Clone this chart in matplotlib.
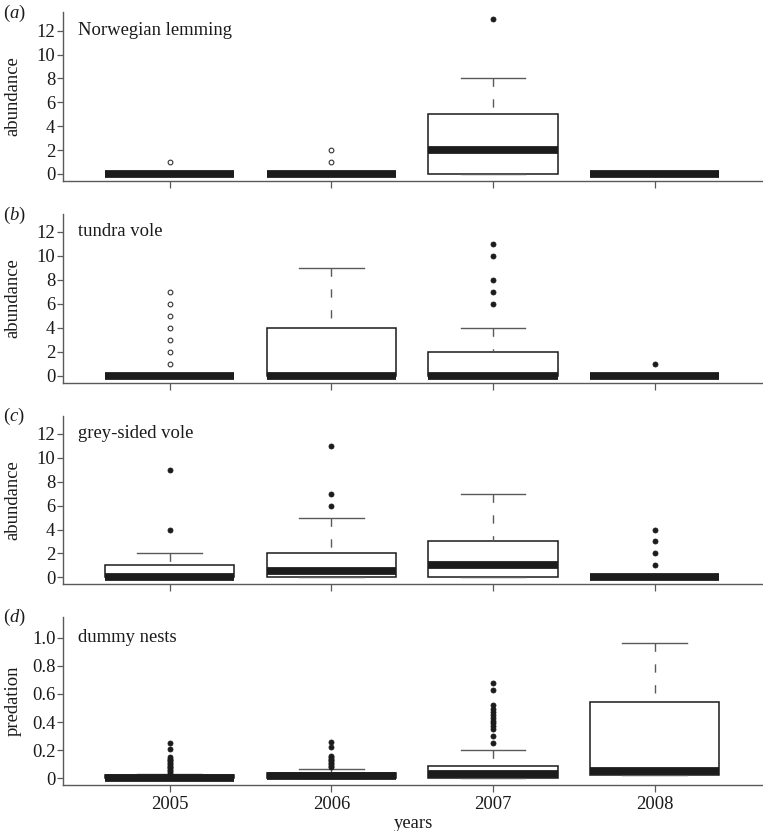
import numpy as np
import matplotlib.pyplot as plt
from matplotlib.ticker import FuncFormatter

plt.rcParams['font.family'] = ['Liberation Serif', 'DejaVu Serif']
plt.rcParams['mathtext.fontset'] = 'custom'
plt.rcParams['mathtext.rm'] = 'Liberation Serif'
plt.rcParams['mathtext.it'] = 'Liberation Serif:italic'

years = ['2005', '2006', '2007', '2008']

# (a) Norwegian lemming
lem_q1 = [0, 0, 0, 0]
lem_med = [0, 0, 2, 0]
lem_q3 = [0, 0, 5, 0]
lem_lo = [0, 0, 0, 0]
lem_hi = [0, 0, 8, 0]
lem_fliers = [[1], [1, 2], [13], []]
lem_hollow = [True, True, False, False]

# (b) tundra vole
tun_q1 = [0, 0, 0, 0]
tun_med = [0, 0, 0, 0]
tun_q3 = [0, 4, 2, 0]
tun_lo = [0, 0, 0, 0]
tun_hi = [0, 9, 4, 0]
tun_fliers = [[1, 2, 3, 4, 5, 6, 7], [], [6, 7, 8, 10, 11], [1]]
tun_hollow = [True, False, False, False]

# (c) grey-sided vole
gre_q1 = [0, 0, 0, 0]
gre_med = [0, 0.5, 1, 0]
gre_q3 = [1, 2, 3, 0]
gre_lo = [0, 0, 0, 0]
gre_hi = [2, 5, 7, 0]
gre_fliers = [[4, 9], [6, 7, 11], [], [1, 2, 3, 4]]
gre_hollow = [False, False, False, False]

# (d) dummy nests
dum_q1 = [0, 0, 0.005, 0.02]
dum_med = [0.0, 0.015, 0.03, 0.05]
dum_q3 = [0.02, 0.035, 0.09, 0.54]
dum_lo = [0, 0, 0.005, 0.02]
dum_hi = [0.03, 0.068, 0.2, 0.96]
dum_fliers = [
    [0.04, 0.05, 0.06, 0.07, 0.08, 0.09, 0.10, 0.11, 0.12, 0.13, 0.14, 0.15, 0.21, 0.25],
    [0.08, 0.09, 0.10, 0.11, 0.12, 0.13, 0.14, 0.15, 0.16, 0.22, 0.26],
    [0.25, 0.30, 0.35, 0.37, 0.39, 0.41, 0.43, 0.45, 0.47, 0.49, 0.52, 0.63, 0.68],
    [],
]
dum_hollow = [False, False, False, False]

panels = [
    ('a', 'Norwegian lemming', 'abundance', lem_q1, lem_med, lem_q3, lem_lo, lem_hi, lem_fliers, lem_hollow),
    ('b', 'tundra vole', 'abundance', tun_q1, tun_med, tun_q3, tun_lo, tun_hi, tun_fliers, tun_hollow),
    ('c', 'grey-sided vole', 'abundance', gre_q1, gre_med, gre_q3, gre_lo, gre_hi, gre_fliers, gre_hollow),
    ('d', 'dummy nests', 'predation', dum_q1, dum_med, dum_q3, dum_lo, dum_hi, dum_fliers, dum_hollow),
]

W, H = 763, 831
fig = plt.figure(figsize=(W / 100, H / 100), dpi=100)

# top/bottom pixel rows of each axes
rows = [(12, 181), (214, 382.7), (415.7, 584), (616.7, 785)]
ylims = [(-0.59, 13.57), (-0.56, 13.47), (-0.56, 13.53), (-0.048, 1.149)]
left = 63
fs = 13.4

grey = '#5a5a5a'
for i, (tag, title, ylab, q1, med, q3, lo, hi, fl, hollow) in enumerate(panels):
    top, bot = rows[i]
    ax = fig.add_axes([left / W, 1 - bot / H, 1 - left / W, (bot - top) / H])
    stats = []
    for k in range(4):
        stats.append(dict(med=med[k], q1=q1[k], q3=q3[k], whislo=lo[k],
                          whishi=hi[k], fliers=np.array(fl[k], dtype=float)))
    res = ax.bxp(stats, positions=[1, 2, 3, 4], widths=0.8, capwidths=0.4,
                 patch_artist=True,
                 boxprops=dict(facecolor='white', edgecolor='#1a1a1a', lw=1.1),
                 medianprops=dict(color='#1c1c1c', lw=5.6, solid_capstyle='butt'),
                 whiskerprops=dict(color=grey, lw=1.0, linestyle=(0, (6, 9))),
                 capprops=dict(color=grey, lw=1.0),
                 flierprops=dict(marker='o', ms=3.6, mfc='#1c1c1c', mec='#1c1c1c', mew=0.6))
    # dashes start at the cap, as in R
    for w in res['whiskers']:
        w.set_xdata(w.get_xdata()[::-1])
        w.set_ydata(w.get_ydata()[::-1])
    for f, h in zip(res['fliers'], hollow):
        if h:
            f.set_markerfacecolor('white')
            f.set_markeredgecolor('#333333')
            f.set_markersize(3.4)
            f.set_markeredgewidth(0.8)

    ax.set_xlim(0.34, 4.67)
    ax.set_ylim(*ylims[i])
    for s in ['top', 'right']:
        ax.spines[s].set_visible(False)
    for s in ['left', 'bottom']:
        ax.spines[s].set_color(grey)
        ax.spines[s].set_linewidth(1.0)
    ax.set_xticks([1, 2, 3, 4])
    ax.tick_params(axis='x', length=5, width=0.9, color=grey, labelsize=fs, pad=3,
                   labelcolor='#1a1a1a')
    ax.tick_params(axis='y', length=4, width=0.9, color=grey, labelsize=fs, pad=1.5,
                   labelcolor='#1a1a1a')
    if tag == 'd':
        ax.set_yticks([0, 0.2, 0.4, 0.6, 0.8, 1.0])
        ax.yaxis.set_major_formatter(FuncFormatter(lambda v, p: '0' if v == 0 else '%.1f' % v))
        ax.set_xticklabels(years)
        ax.set_xlabel('years', fontsize=fs, labelpad=1, color='#1a1a1a')
        ty = 1.0
    else:
        ax.set_yticks([0, 2, 4, 6, 8, 10, 12])
        ax.set_xticklabels([])
        ty = 12
    ax.set_ylabel(ylab, fontsize=fs, va='center', color='#1a1a1a')
    ax.yaxis.set_label_coords(-0.071, 0.5)
    ax.text(0.021, ty, title, transform=ax.get_yaxis_transform(),
            fontsize=fs, va='center', ha='left', color='#1a1a1a')
    fig.text(0.004, 1 - (top + 1) / H, '($\\it{%s}$)' % tag, fontsize=fs,
             va='center', ha='left', color='#1a1a1a')

fig.savefig('out.png', dpi=100)
